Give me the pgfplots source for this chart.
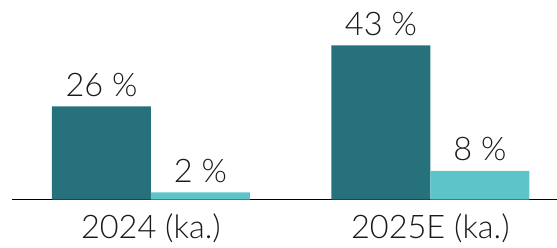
\documentclass[border=0pt]{standalone}
\usepackage{fontspec}
\setmainfont{Lato}[UprightFont=* Light]
\usepackage{pgfplots}
\pgfplotsset{compat=1.18}
\definecolor{darkteal}{HTML}{26717B}
\definecolor{lightteal}{HTML}{5BC5CA}
\definecolor{txt}{HTML}{1A1A1A}
\begin{document}
\begin{tikzpicture}
\begin{axis}[
  scale only axis,
  width=545pt, height=199.5pt,
  xmin=-0.497, xmax=1.453,
  ymin=0, ymax=55.7,
  axis x line=bottom, axis y line=none,
  axis line style={-, line width=1.7pt, black},
  xtick={0,1}, xticklabels={2024 (ka.),2025E (ka.)},
  major tick length=0pt,
  xticklabel style={font=\fontsize{32.5}{38}\selectfont, text=txt, anchor=base, yshift=-39pt},
  ybar, bar width=0.354,
  nodes near coords={\pgfplotspointmeta\ \%},
  point meta=explicit symbolic,
  every node near coord/.append style={font=\fontsize{32.5}{38}\selectfont, text=txt, anchor=base, yshift=10.3pt},
  clip=false,
]
\addplot[fill=darkteal, draw=none, bar shift=-0.177] coordinates {(0,26) [26] (1,43) [43]};
\addplot[fill=lightteal, draw=none, bar shift=0.177] coordinates {(0,2) [2] (1,8) [8]};
\end{axis}
\pgfresetboundingbox
\path (-12pt,-47.5pt) rectangle (545pt,199.5pt);
\end{tikzpicture}
\end{document}
